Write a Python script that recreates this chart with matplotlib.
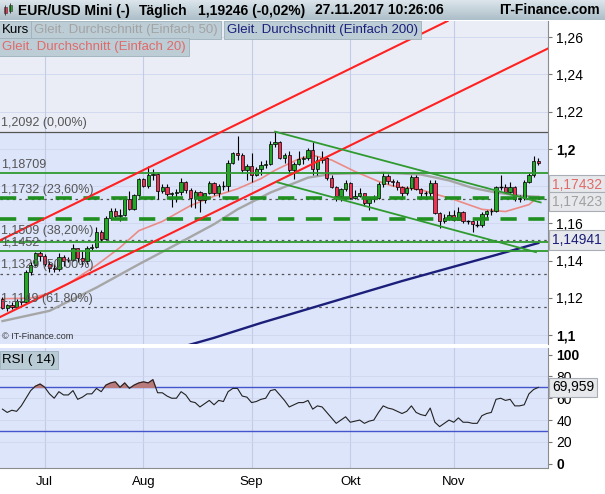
import numpy as np
import pandas as pd
import matplotlib
matplotlib.use('Agg')
import matplotlib.pyplot as plt

plt.rcParams['font.family'] = ['Liberation Sans', 'DejaVu Sans']

# daily candles EUR/USD, 20.06.2017 - 27.11.2017
opens = [1.1195, 1.1143, 1.1160, 1.1150, 1.1185, 1.1175, 1.1340, 1.1375, 1.1440, 1.1425,
         1.1380, 1.1360, 1.1352, 1.1420, 1.1400, 1.1402, 1.1465, 1.1415, 1.1395, 1.1470,
         1.1475, 1.1555, 1.1515, 1.1630, 1.1665, 1.1640, 1.1645, 1.1730, 1.1675, 1.1750,
         1.1840, 1.1800, 1.1860, 1.1866, 1.1775, 1.1795, 1.1755, 1.1760, 1.1770, 1.1820,
         1.1780, 1.1735, 1.1770, 1.1725, 1.1760, 1.1815, 1.1760, 1.1800, 1.1802, 1.1925,
         1.1975, 1.1965, 1.1885, 1.1910, 1.1860, 1.1890, 1.1915, 1.1920, 1.2025, 1.2035,
         1.1950, 1.1965, 1.1885, 1.1920, 1.1945, 1.1950, 1.1995, 1.1890, 1.1940, 1.1950,
         1.1845, 1.1795, 1.1745, 1.1785, 1.1815, 1.1735, 1.1745, 1.1760, 1.1710, 1.1730,
         1.1735, 1.1810, 1.1855, 1.1825, 1.1820, 1.1795, 1.1765, 1.1790, 1.1850, 1.1785,
         1.1760, 1.1762, 1.1815, 1.1655, 1.1610, 1.1630, 1.1645, 1.1620, 1.1660, 1.1610,
         1.1612, 1.1595, 1.1592, 1.1650, 1.1665, 1.1667, 1.1795, 1.1797, 1.1770, 1.1795,
         1.1730, 1.1735, 1.1822, 1.1860, 1.1935]
highs = [1.1205, 1.1168, 1.1175, 1.1192, 1.1200, 1.1350, 1.1390, 1.1445, 1.1450, 1.1435,
         1.1395, 1.1380, 1.1440, 1.1430, 1.1420, 1.1490, 1.1470, 1.1450, 1.1480, 1.1490,
         1.1580, 1.1565, 1.1640, 1.1680, 1.1680, 1.1675, 1.1745, 1.1775, 1.1755, 1.1845,
         1.1845, 1.1910, 1.1890, 1.1870, 1.1810, 1.1810, 1.1770, 1.1785, 1.1845, 1.1825,
         1.1790, 1.1780, 1.1775, 1.1765, 1.1825, 1.1820, 1.1810, 1.1825, 1.1940, 1.1985,
         1.2070, 1.1975, 1.1920, 1.1980, 1.1900, 1.1935, 1.1940, 1.2040, 1.2092, 1.2040,
         1.1980, 1.1990, 1.1930, 1.1990, 1.1960, 1.2005, 1.2035, 1.1960, 1.1990, 1.1955,
         1.1860, 1.1800, 1.1790, 1.1835, 1.1820, 1.1780, 1.1790, 1.1765, 1.1735, 1.1750,
         1.1820, 1.1875, 1.1865, 1.1840, 1.1830, 1.1800, 1.1800, 1.1860, 1.1860, 1.1790,
         1.1775, 1.1830, 1.1835, 1.1660, 1.1650, 1.1665, 1.1670, 1.1690, 1.1665, 1.1620,
         1.1620, 1.1615, 1.1660, 1.1670, 1.1680, 1.1800, 1.1860, 1.1810, 1.1820, 1.1800,
         1.1750, 1.1835, 1.1870, 1.1960, 1.1950]
lows = [1.1138, 1.1128, 1.1140, 1.1145, 1.1160, 1.1168, 1.1320, 1.1370, 1.1395, 1.1370,
        1.1340, 1.1340, 1.1345, 1.1370, 1.1390, 1.1395, 1.1390, 1.1370, 1.1380, 1.1455,
        1.1470, 1.1500, 1.1510, 1.1620, 1.1630, 1.1610, 1.1640, 1.1670, 1.1670, 1.1730,
        1.1795, 1.1790, 1.1830, 1.1730, 1.1760, 1.1745, 1.1690, 1.1715, 1.1750, 1.1760,
        1.1690, 1.1680, 1.1662, 1.1710, 1.1755, 1.1750, 1.1740, 1.1780, 1.1775, 1.1920,
        1.1940, 1.1870, 1.1835, 1.1823, 1.1855, 1.1860, 1.1895, 1.1915, 1.2010, 1.1945,
        1.1925, 1.1870, 1.1840, 1.1915, 1.1920, 1.1940, 1.1860, 1.1860, 1.1925, 1.1835,
        1.1790, 1.1720, 1.1720, 1.1775, 1.1730, 1.1730, 1.1740, 1.1695, 1.1670, 1.1715,
        1.1730, 1.1795, 1.1810, 1.1800, 1.1780, 1.1730, 1.1750, 1.1780, 1.1780, 1.1730,
        1.1740, 1.1735, 1.1650, 1.1575, 1.1600, 1.1620, 1.1610, 1.1615, 1.1600, 1.1595,
        1.1555, 1.1580, 1.1580, 1.1630, 1.1645, 1.1660, 1.1780, 1.1760, 1.1760, 1.1720,
        1.1715, 1.1725, 1.1815, 1.1850, 1.1912]
closes = [1.1143, 1.1160, 1.1150, 1.1185, 1.1175, 1.1340, 1.1375, 1.1440, 1.1425, 1.1380,
          1.1360, 1.1352, 1.1420, 1.1400, 1.1402, 1.1465, 1.1415, 1.1395, 1.1470, 1.1475,
          1.1555, 1.1515, 1.1630, 1.1665, 1.1640, 1.1645, 1.1730, 1.1675, 1.1750, 1.1840,
          1.1800, 1.1860, 1.1866, 1.1775, 1.1795, 1.1755, 1.1760, 1.1770, 1.1820, 1.1780,
          1.1735, 1.1770, 1.1725, 1.1760, 1.1815, 1.1760, 1.1800, 1.1802, 1.1925, 1.1975,
          1.1965, 1.1885, 1.1910, 1.1860, 1.1890, 1.1915, 1.1920, 1.2025, 1.2035, 1.1950,
          1.1965, 1.1885, 1.1920, 1.1945, 1.1950, 1.1995, 1.1890, 1.1940, 1.1950, 1.1845,
          1.1795, 1.1745, 1.1785, 1.1815, 1.1735, 1.1745, 1.1760, 1.1710, 1.1730, 1.1735,
          1.1810, 1.1855, 1.1825, 1.1820, 1.1795, 1.1765, 1.1790, 1.1850, 1.1785, 1.1760,
          1.1762, 1.1815, 1.1655, 1.1610, 1.1630, 1.1645, 1.1620, 1.1660, 1.1610, 1.1612,
          1.1595, 1.1592, 1.1650, 1.1665, 1.1667, 1.1795, 1.1797, 1.1770, 1.1795, 1.1730,
          1.1735, 1.1822, 1.1860, 1.1935, 1.19246]

# moving averages (candle index, value)
sma20_idx = [0, 6, 10, 14, 20, 25, 29, 34, 40, 45, 50, 55, 58, 63, 66, 70, 75, 80, 83, 89, 96, 102, 107, 112, 114]
sma20_val = [1.1195, 1.1198, 1.1225, 1.1275, 1.1375, 1.1470, 1.1560, 1.1610, 1.1695, 1.1745, 1.1785, 1.1840,
             1.1885, 1.1945, 1.1965, 1.1940, 1.1878, 1.1825, 1.1800, 1.1780, 1.1728, 1.1675, 1.1663, 1.1700, 1.17432]
sma50_idx = [0, 10, 20, 29, 38, 45, 50, 57, 65, 70, 81, 89, 95, 100, 105, 110, 114]
sma50_val = [1.1075, 1.1130, 1.1255, 1.1380, 1.1500, 1.1595, 1.1675, 1.1765, 1.1845, 1.1865, 1.1872,
             1.1862, 1.1830, 1.1790, 1.1765, 1.1748, 1.17423]
sma200_idx = [38, 45, 55, 65, 75, 85, 95, 105, 114]
sma200_val = [1.0935, 1.0985, 1.1065, 1.1140, 1.1215, 1.1290, 1.1360, 1.1430, 1.14941]

rsi = [50, 47, 49, 48, 53, 60, 67, 71, 73, 70,
       64, 60, 66, 63, 63, 67, 59, 61, 64, 64,
       69, 66, 72, 74, 75, 70, 74, 69, 72, 74,
       75, 74, 77, 65, 65, 62, 60, 60, 66, 63,
       57, 56, 52, 55, 58, 54, 58, 57, 66, 69,
       69, 62, 61, 56, 57, 59, 60, 67, 68, 63,
       58, 52, 54, 56, 56, 58, 50, 53, 52, 47,
       42, 37, 40, 43, 38, 39, 40, 37, 39, 40,
       47, 53, 51, 50, 48, 46, 48, 53, 47, 45,
       44, 51, 38, 34, 37, 40, 38, 42, 38, 38,
       37, 37, 44, 46, 47, 59, 60, 58, 59, 53,
       53, 54, 64, 68, 69.959]

# fibonacci retracement and drawn lines
fib_levels = [1.2092, 1.1732, 1.1509, 1.1329, 1.1149]
fib_labels = ['1,2092 (0,00%)', '1,1732 (23,60%)', '1,1509 (38,20%)', '1,1329 (50,00%)', '1,1149 (61,80%)']
green_hlines = [1.18709, 1.1500, 1.1452]
green_hlabels = ['1,18709', '', '1,1452']
green_dashed = [1.1735, 1.1625]
red_trend = [((0, 1.1515), (90, 1.2628)), ((0, 1.1103), (114, 1.2513))]
green_channel = [((58, 1.2092), (114.5, 1.1712)), ((58.5, 1.1820), (113.5, 1.1445))]
months = ['Jul', 'Aug', 'Sep', 'Okt', 'Nov']

W, H = 605, 494


def rect(x0, y0, x1, y1):
    return [x0 / W, 1 - y1 / H, (x1 - x0) / W, (y1 - y0) / H]


def de(v):
    s = ('%.2f' % v).rstrip('0').rstrip('.')
    return s.replace('.', ',')


fig = plt.figure(figsize=(6.05, 4.94), dpi=100, facecolor='white')
ax = fig.add_axes(rect(0, 21, 548, 344))
rax = fig.add_axes(rect(0, 348, 548, 468), sharex=ax)
head = fig.add_axes(rect(0, 0, 605, 20))

idx = np.arange(len(closes))
o, h, l, c = (np.array(a) for a in (opens, highs, lows, closes))
dates = pd.bdate_range('2017-06-20', periods=len(closes))
mstart = [i for i in range(1, len(dates)) if dates[i].month != dates[i - 1].month]

# ---- main panel
ax.set_facecolor('#dde5fa')
ax.axhspan(fib_levels[0], 1.3, color='#eaedf6', zorder=0)
ax.set_xlim(-0.53, 116.06)
ax.set_ylim(1.0952, 1.2686)
yt = np.round(np.arange(1.10, 1.261, 0.02), 2)
for y in yt:
    ax.axhline(y, color='#cfd6ee', lw=0.6, zorder=0.5)
for m in mstart:
    ax.axvline(m, color='#c3cbe6', lw=0.8, zorder=0.5)
    rax.axvline(m, color='#c3cbe6', lw=0.8, zorder=0.5)

for k, (lev, lab) in enumerate(zip(fib_levels, fib_labels)):
    if k == 0:
        ax.axhline(lev, color='#555555', lw=0.9, zorder=2)
    else:
        ax.axhline(lev, color='#555555', lw=0.9, ls=(0, (2, 3)), zorder=2)
    ax.annotate(lab, (-0.3, lev), xytext=(0, 2), textcoords='offset points',
                fontsize=9, color='#555555', va='bottom', ha='left', zorder=9)

ax.plot(sma200_idx, sma200_val, color='#1b1f7a', lw=1.7, zorder=3)
ax.plot(sma50_idx, sma50_val, color='#a6a6a6', lw=1.7, zorder=3)
ax.plot(sma20_idx, sma20_val, color='#ec8a86', lw=1.2, zorder=3)

ax.vlines(idx, l, h, color='black', lw=0.8, zorder=5)
body = c - o
doji = np.abs(body) < 0.0004
up = (body > 0) & ~doji
dn = (body < 0) & ~doji
ax.bar(idx[up], body[up], bottom=o[up], width=0.7, color='#22a822', edgecolor='black', lw=0.5, zorder=6)
ax.bar(idx[dn], body[dn], bottom=o[dn], width=0.7, color='#ee3355', edgecolor='black', lw=0.5, zorder=6)
ax.hlines(c[doji], idx[doji] - 0.38, idx[doji] + 0.38, color='black', lw=1.0, zorder=6)

for lev, lab in zip(green_hlines, green_hlabels):
    ax.axhline(lev, color='#2f9a2f', lw=1.3, zorder=7)
    if lab:
        ax.annotate(lab, (-0.3, lev), xytext=(0, 2), textcoords='offset points',
                    fontsize=9, color='#555555', va='bottom', ha='left', zorder=9)
for lev in green_dashed:
    ax.axhline(lev, color='#1f8f1f', lw=2.6, ls=(0, (4.5, 3.2)), zorder=7)
for p1, p2 in red_trend:
    ax.axline(p1, p2, color='#ff2222', lw=1.5, zorder=7)
for p1, p2 in green_channel:
    ax.plot([p1[0], p2[0]], [p1[1], p2[1]], color='#2f9a2f', lw=1.3, zorder=7)

ax.text(0.004, 0.01, '\u00a9 IT-Finance.com', transform=ax.transAxes, fontsize=6.5,
        color='#333333', va='bottom')

ax.yaxis.tick_right()
ax.set_yticks(yt)
# 1,18 sits behind the value boxes in the reference
ax.set_yticklabels(['' if abs(v - 1.18) < 1e-9 else de(v) for v in yt])
for t in ax.get_yticklabels():
    if t.get_text() in ('1,2', '1,1'):
        t.set_fontweight('bold')
ax.tick_params(axis='y', labelsize=10, length=3, color='#777777', pad=3)
ax.tick_params(axis='x', length=0, labelbottom=False)
for s in ('top', 'left', 'bottom'):
    ax.spines[s].set_visible(False)
ax.spines['right'].set_color('#8c8c8c')

boxkw = dict(boxstyle='square,pad=0.2', fc='#e6e8ec', ec='#a9adb5', lw=0.8)
for val, col, dy in [(sma20_val[-1], '#e06a6a', 8.5), (sma50_val[-1], '#a0a0a0', -3.5),
                     (sma200_val[-1], '#1b1f7a', 2)]:
    ax.annotate(('%.5f' % val).replace('.', ','), xy=(1.0, val), xycoords=('axes fraction', 'data'),
                xytext=(3, dy), textcoords='offset points', va='center', ha='left',
                fontsize=10, color=col, bbox=boxkw, annotation_clip=False, zorder=10)

# ---- RSI panel
r = np.array(rsi)
rax.set_facecolor('#dde5fa')
rax.set_ylim(-3.9, 106)
for y in (20, 40, 60, 80):
    rax.axhline(y, color='#cfd6ee', lw=0.6, zorder=0.5)
rax.axhline(70, color='#4455cc', lw=1, zorder=2)
rax.axhline(30, color='#4455cc', lw=1, zorder=2)
rax.fill_between(idx, r, 70, where=r > 70, interpolate=True, color='#b87a7a', zorder=2.5)
rax.plot(idx, r, color='#222222', lw=0.8, zorder=3)
rax.yaxis.tick_right()
rax.set_yticks([0, 20, 40, 60, 80, 100])
rax.set_yticklabels(['0', '20', '40', '60', '80', '100'])
for t in rax.get_yticklabels():
    if t.get_text() in ('0', '100'):
        t.set_fontweight('bold')
rax.tick_params(axis='y', labelsize=10, length=3, color='#777777', pad=3)
rax.set_xticks(mstart)
rax.set_xticklabels(months)
rax.tick_params(axis='x', length=0, labelsize=9.5, pad=6)
for s in ('top', 'left'):
    rax.spines[s].set_visible(False)
rax.spines['right'].set_color('#8c8c8c')
rax.spines['bottom'].set_color('#8c8c8c')
rax.annotate(('%.3f' % rsi[-1]).replace('.', ','), xy=(1.0, rsi[-1]), xycoords=('axes fraction', 'data'),
             xytext=(3, 0), textcoords='offset points', va='center', ha='left', fontsize=10,
             color='black', bbox=boxkw, annotation_clip=False, zorder=10)
rax.text(0.004, 0.95, 'RSI ( 14)', transform=rax.transAxes, fontsize=9.5, va='top',
         bbox=dict(boxstyle='square,pad=0.2', fc='#b9cbd5', ec='#9db0bb', lw=0.6))

# ---- header bar
grad = np.linspace(0, 1, 20).reshape(-1, 1)
head.imshow(grad, aspect='auto', extent=(0, 605, 20, 0),
            cmap=matplotlib.colors.LinearSegmentedColormap.from_list('hb', ['#dbe4ea', '#adbfc9']))
head.set_xlim(0, 605)
head.set_ylim(20, 0)
head.axis('off')
head.vlines([5, 10], [5, 3], [15, 13], color='#333333', lw=0.6)
head.bar([5], [6], bottom=[7], width=3, color='#ee3355', edgecolor='#333333', lw=0.4)
head.bar([10], [6], bottom=[5], width=3, color='#22a822', edgecolor='#333333', lw=0.4)
for x, s in [(18, 'EUR/USD Mini (-)'), (139, 'T\u00e4glich'), (198, '1,19246 (-0,02%)'),
             (315, '27.11.2017 10:26:06')]:
    head.text(x, 10.5, s, fontsize=10, fontweight='bold', va='center', ha='left')
head.text(600, 10.5, 'IT-Finance.com', fontsize=10, fontweight='bold', va='center', ha='right')

# ---- legend boxes
lkw = dict(boxstyle='square,pad=0.22', fc='#bccdd6', ec='#9db0bb', lw=0.6)
for x, y, s, col in [(2, 30, 'Kurs', 'black'),
                     (34, 30, 'Gleit. Durchschnitt (Einfach 50)', '#a3a3a3'),
                     (227, 30, 'Gleit. Durchschnitt (Einfach 200)', '#1b1f7a'),
                     (2, 47, 'Gleit. Durchschnitt (Einfach 20)', '#e06a6a')]:
    fig.text(x / W, 1 - y / H, s, fontsize=9.5, color=col, va='center', ha='left', bbox=lkw, zorder=20)

fig.savefig('out.png', dpi=100)
